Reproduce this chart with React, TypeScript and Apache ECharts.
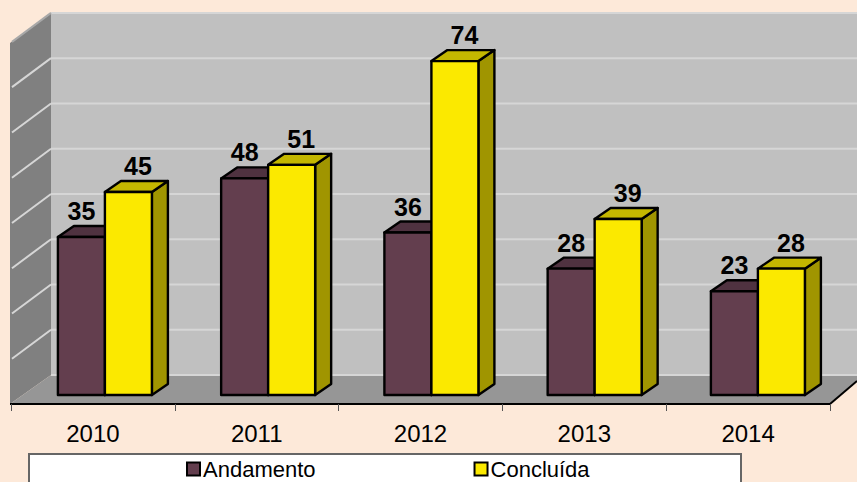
import React, { useEffect, useRef } from "react";
import * as echarts from "echarts";

const categories = ["2010", "2011", "2012", "2013", "2014"];
const andamento = [35, 48, 36, 28, 23];
const concluida = [45, 51, 74, 39, 28];
const gridValues = [0, 10, 20, 30, 40, 50, 60, 70, 80];

const FONT = "'Liberation Sans', Arial, sans-serif";
const DEPTH_X = 16;
const DEPTH_Y = 11;
const BAR_W = 47;
const WALL_SCALE = 1.003;

function barRenderer(seriesIndex: number, front: string, top: string, side: string) {
  return (_params: any, api: any) => {
    const cat = api.value(0);
    const val = api.value(1);
    const p = api.coord([cat, val]);
    const base = api.coord([cat, 0]);
    const cx = base[0] + 12 - cat * 0.55;
    const x0 = seriesIndex === 0 ? cx - BAR_W : cx;
    const x1 = x0 + BAR_W;
    const yT = p[1];
    const yB = base[1];
    const stroke = { stroke: "#000", lineWidth: 2.4, lineJoin: "round" };
    return {
      type: "group",
      children: [
        {
          type: "polygon",
          shape: { points: [[x1, yT], [x1 + DEPTH_X, yT - DEPTH_Y], [x1 + DEPTH_X, yB - DEPTH_Y], [x1, yB]] },
          style: { fill: side, ...stroke },
        },
        {
          type: "polygon",
          shape: { points: [[x0, yT], [x0 + DEPTH_X, yT - DEPTH_Y], [x1 + DEPTH_X, yT - DEPTH_Y], [x1, yT]] },
          style: { fill: top, ...stroke },
        },
        { type: "rect", shape: { x: x0, y: yT, width: BAR_W, height: yB - yT }, style: { fill: front, ...stroke } },
        {
          type: "text",
          style: {
            x: (x0 + x1) / 2 + (seriesIndex === 0 ? 0 : 9.5),
            y: yT - 26,
            text: String(val),
            fill: "#000",
            font: `bold 25px ${FONT}`,
            textAlign: "center",
            textVerticalAlign: "middle",
          },
        },
      ],
    };
  };
}

function wallRenderer(params: any, api: any) {
  const cs = params.coordSys;
  const y0 = api.coord([0, 0])[1];
  const y80 = y0 - (y0 - api.coord([0, 80])[1]) * WALL_SCALE;
  const xL = cs.x - 1;
  const xB = cs.x + 40;
  const xR = cs.x + cs.width;
  return {
    type: "group",
    children: [
      { type: "rect", shape: { x: xB, y: y80 - 20, width: 857 - xB, height: y0 - y80 }, style: { fill: "#C0C0C0" } },
      { type: "polygon", shape: { points: [[xL, y80 + 10], [xB, y80 - 20], [xB, y0 - 20], [xL, y0 + 9]] }, style: { fill: "#808080" } },
      {
        type: "polygon",
        shape: { points: [[xL, y0 + 9], [xB, y0 - 20], [857, y0 - 20], [857, y0 - 14], [xR, y0 + 9]] },
        style: { fill: "#969696" },
      },
      { type: "line", shape: { x1: xL, y1: y0 + 9, x2: xR, y2: y0 + 9 }, style: { stroke: "#000", lineWidth: 2 } },
      { type: "line", shape: { x1: xR, y1: y0 + 9, x2: 857, y2: y0 - 14 }, style: { stroke: "#000", lineWidth: 2 } },
    ],
  };
}

function gridRenderer(params: any, api: any) {
  const cs = params.coordSys;
  const y0 = api.coord([0, 0])[1];
  const y = y0 - (y0 - api.coord([0, api.value(0)])[1]) * WALL_SCALE;
  const xB = cs.x + 40;
  const v = api.value(0);
  const children: any[] = [
    { type: "line", shape: { x1: xB, y1: y - 20, x2: 857, y2: y - 20 }, style: { stroke: "#D6D6D6", lineWidth: 2 } },
  ];
  if (v > 0) {
    children.push({
      type: "line",
      shape: { x1: xB, y1: y - 20, x2: cs.x + 1, y2: y + 9 },
      style: { stroke: v === 80 ? "#A8A8A8" : "#D6D6D6", lineWidth: 2 },
    });
  }
  return { type: "group", children };
}

export default function App() {
  const ref = useRef<HTMLDivElement>(null);
  useEffect(() => {
    document.body.style.margin = "0";
    const chart = echarts.init(ref.current!, null, { renderer: "svg" });
    chart.setOption({
      animation: false,
      backgroundColor: "#FDE9D9",
      grid: { left: 11, right: 27, top: 34, bottom: 87 },
      xAxis: {
        type: "category",
        data: categories,
        offset: 9,
        axisLine: { show: false, onZero: false },
        axisTick: { show: true, length: 7, alignWithLabel: false, lineStyle: { color: "#555", width: 1 } },
        axisLabel: { color: "#000", fontSize: 24, fontFamily: FONT, margin: 17 },
      },
      yAxis: { type: "value", min: 0, max: 80, interval: 10, show: false },
      legend: {
        left: 186,
        top: 458,
        itemWidth: 13,
        itemHeight: 13,
        itemGap: 158,
        padding: 0,
        icon: "rect",
        data: ["Andamento", "Concluída"],
        textStyle: { color: "#000", fontSize: 22, fontFamily: FONT, padding: [0, 0, 0, -2] },
      },
      graphic: [
        {
          type: "rect",
          z: 1,
          shape: { x: 29, y: 454, width: 712, height: 40 },
          style: { fill: "#FFFFFF", stroke: "#666666", lineWidth: 2 },
        },
      ],
      series: [
        { type: "custom", name: "walls", silent: true, clip: false, z: 0, data: [0], encode: { y: 0 }, renderItem: wallRenderer },
        { type: "custom", name: "grid", silent: true, clip: false, z: 1, data: gridValues.map((v) => [v]), encode: { y: 0 }, renderItem: gridRenderer },
        {
          type: "custom",
          name: "Andamento",
          clip: false,
          z: 2,
          itemStyle: { color: "#633E4E", borderColor: "#000", borderWidth: 2 },
          data: categories.map((c, i) => [c, andamento[i]]),
          encode: { x: 0, y: 1 },
          renderItem: barRenderer(0, "#633E4E", "#4F3240", "#3B2530"),
        },
        {
          type: "custom",
          name: "Concluída",
          clip: false,
          z: 3,
          itemStyle: { color: "#FBE900", borderColor: "#000", borderWidth: 2 },
          data: categories.map((c, i) => [c, concluida[i]]),
          encode: { x: 0, y: 1 },
          renderItem: barRenderer(1, "#FBE900", "#C4B700", "#A09500"),
        },
      ],
    });
    return () => chart.dispose();
  }, []);
  return <div ref={ref} style={{ width: 857, height: 482 }} />;
}
